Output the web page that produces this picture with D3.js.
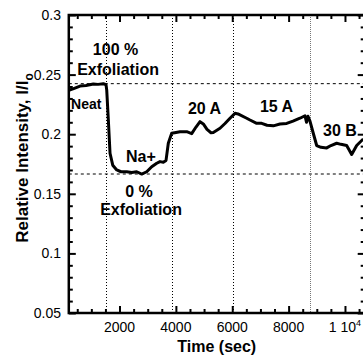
<!DOCTYPE html>
<html>
<head>
<meta charset="utf-8">
<script src="https://cdn.jsdelivr.net/npm/d3@7"></script>
<style>
  html, body { margin: 0; padding: 0; background: #fff; }
  svg { display: block; font-family: "Liberation Sans", Arial, Helvetica, sans-serif; }
</style>
</head>
<body>
<svg id="chart" width="363" height="355"></svg>
<script>
// ---- data ----
const times = [226, 350, 599, 812, 1071, 1237, 1425, 1521, 1546, 1603, 1663, 1759, 1901, 2053, 2255, 2433, 2610, 2788, 2965, 3142, 3320, 3437, 3554, 3650, 3731, 3852, 4004, 4146, 4384, 4561, 4714, 4856, 4973, 5104, 5246, 5328, 5565, 5743, 5920, 6098, 6204, 6513, 6630, 6867, 7045, 7233, 7456, 7694, 7932, 8155, 8403, 8581, 8634, 8687, 8758, 8875, 8996, 9148, 9351, 9503, 9706, 9858, 10060, 10238, 10415, 10649];
const intensity = [0.2371, 0.2380, 0.2404, 0.2408, 0.2421, 0.2418, 0.2424, 0.2415, 0.2370, 0.2120, 0.1840, 0.1740, 0.1700, 0.1685, 0.1685, 0.1678, 0.1685, 0.1666, 0.1685, 0.1727, 0.1756, 0.1770, 0.1765, 0.1780, 0.1924, 0.2008, 0.2015, 0.2021, 0.2021, 0.2005, 0.2060, 0.2105, 0.2086, 0.2040, 0.2012, 0.2015, 0.2050, 0.2090, 0.2134, 0.2175, 0.2170, 0.2134, 0.2119, 0.2091, 0.2091, 0.2075, 0.2070, 0.2085, 0.2090, 0.2110, 0.2134, 0.2155, 0.2100, 0.2150, 0.2110, 0.2008, 0.1905, 0.1890, 0.1885, 0.1905, 0.1924, 0.1915, 0.1905, 0.1830, 0.1905, 0.1960];
const xTickValues = [2000, 4000, 6000, 8000, 10000];
const xTickLabels = ["2000", "4000", "6000", "8000", "1 10"];
const yTickValues = [0.05, 0.1, 0.15, 0.2, 0.25, 0.3];
const yTickLabels = ["0.05", "0.1", "0.15", "0.2", "0.25", "0.3"];
const vGuideTimes = [1530, 3852, 6037, 8758];
const hGuideValues = [0.2424, 0.1666];
const annoText = ["100 %", "Exfoliation", "Neat", "Na+", "0 %", "Exfoliation", "20 A", "15 A", "30 B"];
const annoTime = [1858, 1947, 279, 2231, 2692, 2763, 5015, 7570, 9823];
const annoValue = [0.2664, 0.2497, 0.2211, 0.1767, 0.1473, 0.1322, 0.2169, 0.2186, 0.1985];
const annoAnchor = ["middle", "middle", "start", "start", "middle", "middle", "middle", "middle", "middle"];

// ---- layout ----
const svg = d3.select("#chart");
const L = 68.8, R = 364.7, T = 15, B = 313;
const x = d3.scaleLinear().domain([200, 10700]).range([L, R]);
const y = d3.scaleLinear().domain([0.05, 0.3]).range([B, T]);

const xMinor = d3.range(500, 10700, 500).filter(v => v % 2000 !== 0);
const yMinor = d3.range(0.06, 0.3, 0.01).filter(v => Math.abs(v / 0.05 - Math.round(v / 0.05)) > 1e-6);

// clip
svg.append("clipPath").attr("id", "clip").append("rect")
  .attr("x", L).attr("y", T).attr("width", R - L).attr("height", B - T);

// guides
svg.append("g").selectAll("line").data(hGuideValues).join("line")
  .attr("x1", L).attr("x2", R).attr("y1", d => y(d)).attr("y2", d => y(d))
  .attr("stroke", "#000").attr("stroke-width", 1).attr("stroke-dasharray", "3,3");
svg.append("g").selectAll("line").data(vGuideTimes).join("line")
  .attr("x1", d => Math.round(x(d)) + 0.5).attr("x2", d => Math.round(x(d)) + 0.5)
  .attr("y1", T).attr("y2", B)
  .attr("stroke", (d, i) => i === 3 ? "#777" : "#000").attr("stroke-width", 1)
  .attr("stroke-dasharray", (d, i) => i === 3 ? "1,1" : "1,2");

// data line
svg.append("path")
  .datum(times.map((t, i) => [t, intensity[i]]))
  .attr("clip-path", "url(#clip)")
  .attr("fill", "none").attr("stroke", "#000").attr("stroke-width", 3)
  .attr("stroke-linejoin", "round")
  .attr("d", d3.line().x(d => x(d[0])).y(d => y(d[1])));

// axes (inward ticks)
const tickW = 2;
function axisTicks(axisGen, transform, majorVals, minorVals, majorLen, minorLen) {
  svg.append("g").attr("transform", transform)
    .call(axisGen.tickValues(minorVals).tickSize(minorLen).tickFormat(""))
    .call(g => g.select(".domain").remove())
    .call(g => g.selectAll("line").attr("stroke-width", tickW));
  svg.append("g").attr("transform", transform)
    .call(axisGen.tickValues(majorVals).tickSize(majorLen).tickFormat(""))
    .call(g => g.select(".domain").remove())
    .call(g => g.selectAll("line").attr("stroke-width", tickW));
}
axisTicks(d3.axisTop(x), `translate(0,${B})`, xTickValues, xMinor, 7, 4);
axisTicks(d3.axisBottom(x), `translate(0,${T})`, xTickValues, xMinor, 7, 4);
axisTicks(d3.axisRight(y), `translate(${L},0)`, yTickValues, yMinor, 7, 4);
axisTicks(d3.axisLeft(y), `translate(${R},0)`, yTickValues, yMinor, 7, 4);

// frame
svg.append("rect").attr("x", L).attr("y", T).attr("width", R - L).attr("height", B - T)
  .attr("fill", "none").attr("stroke", "#000").attr("stroke-width", 2.5);

// tick labels
const xl = svg.append("g").selectAll("text").data(xTickValues).join("text")
  .attr("x", d => x(d)).attr("y", 331.5).attr("text-anchor", "middle")
  .attr("font-size", 14).attr("fill", "#000")
  .text((d, i) => xTickLabels[i]);
xl.filter((d, i) => i === 4).append("tspan").attr("dy", -6).attr("font-size", 9).text("4");

svg.append("g").selectAll("text").data(yTickValues).join("text")
  .attr("x", 61).attr("y", d => y(d)).attr("dy", "0.35em").attr("text-anchor", "end")
  .attr("font-size", 14).attr("fill", "#000")
  .text((d, i) => yTickLabels[i]);

// axis titles
svg.append("text").attr("x", (L + R) / 2).attr("y", 352).attr("text-anchor", "middle")
  .attr("font-size", 16).attr("font-weight", "bold").text("Time (sec)");
const yt = svg.append("text").attr("transform", `translate(28,158) rotate(-90)`)
  .attr("text-anchor", "middle").attr("font-size", 17).attr("font-weight", "bold");
yt.append("tspan").text("Relative Intensity, I/I");
yt.append("tspan").attr("dy", 5).attr("font-size", 12).text("o");

// annotations
svg.append("g").selectAll("text").data(annoText).join("text")
  .attr("x", (d, i) => x(annoTime[i])).attr("y", (d, i) => y(annoValue[i]))
  .attr("text-anchor", (d, i) => annoAnchor[i])
  .attr("font-size", (d, i) => i === 2 ? 14 : 16).attr("font-weight", "bold")
  .text(d => d);
</script>
</body>
</html>
